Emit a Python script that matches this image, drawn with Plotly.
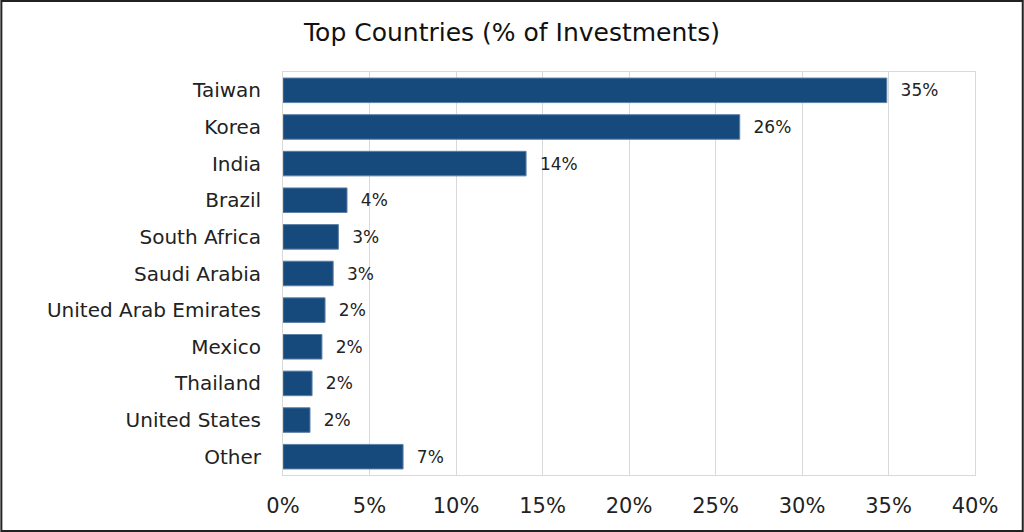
import plotly.graph_objects as go

# Share of investments by country (%)
countries = ["Taiwan", "Korea", "India", "Brazil", "South Africa", "Saudi Arabia",
             "United Arab Emirates", "Mexico", "Thailand", "United States", "Other"]
shares = [34.9, 26.4, 14.05, 3.7, 3.2, 2.9, 2.43, 2.25, 1.68, 1.56, 6.94]
x_ticks = [0, 5, 10, 15, 20, 25, 30, 35, 40]
x_tick_labels = ["0%", "5%", "10%", "15%", "20%", "25%", "30%", "35%", "40%"]

font_family = "DejaVu Sans, Verdana, sans-serif"
bar_color = "#174A7C"

fig = go.Figure(go.Bar(
    x=shares,
    y=countries,
    orientation="h",
    marker=dict(color=bar_color, line=dict(color="#5C7FA6", width=1)),
    texttemplate="  %{x:.0f}%",
    textposition="outside",
    textfont=dict(size=17, color="#222222", family=font_family),
    cliponaxis=False,
))

fig.update_layout(
    width=1024, height=532,
    margin=dict(l=283, r=49, t=72, b=57),
    paper_bgcolor="white", plot_bgcolor="white",
    bargap=0.33,
    showlegend=False,
    title=dict(text="Top Countries (% of Investments)", x=0.5, xanchor="center",
               y=0.94, yanchor="middle",
               font=dict(size=25, color="#111111", family=font_family)),
    font=dict(family=font_family, color="#222222"),
)

fig.update_xaxes(
    range=[0, 40], tickvals=x_ticks, ticktext=x_tick_labels,
    showgrid=True, gridcolor="#D9D9D9", gridwidth=1,
    showline=True, linecolor="#D9D9D9", mirror=True,
    ticks="outside", ticklen=12, tickcolor="rgba(0,0,0,0)",
    tickfont=dict(size=21, color="#222222"),
    zeroline=False,
)
fig.update_yaxes(
    autorange="reversed",
    showline=True, linecolor="#D9D9D9", mirror=True,
    ticks="outside", ticklen=17, tickcolor="rgba(0,0,0,0)",
    tickfont=dict(size=20, color="#222222"),
)

# thin black frame around the whole picture
fig.add_shape(type="rect", xref="paper", yref="paper",
              x0=-0.407, x1=1.069, y0=-0.139, y1=1.176,
              line=dict(color="#222222", width=2), layer="above")

fig.write_html("out.html", config={"displayModeBar": False},
               post_script="document.body.style.margin='0';")
